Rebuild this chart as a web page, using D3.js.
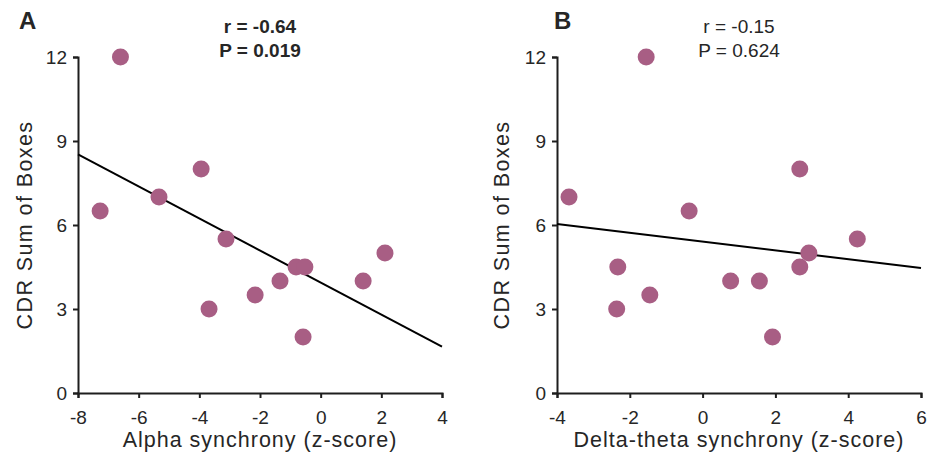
<!DOCTYPE html>
<html>
<head>
<meta charset="utf-8">
<script src="https://cdn.jsdelivr.net/npm/d3@7"></script>
<style>
  body { margin: 0; background: #fff; }
  text { font-family: "Liberation Sans", Arial, sans-serif; fill: #262626; }
</style>
</head>
<body>
<svg id="chart" width="930" height="455"></svg>
<script>
// --------------------------------------------------
// data

const cdrScores = [12, 6.5, 7, 8, 5.5, 3, 3.5, 4, 4.5, 4.5, 2, 4, 5];
const alphaSync = [-6.6, -7.27, -5.33, -3.94, -3.12, -3.68, -2.16, -1.34, -0.81, -0.52, -0.58, 1.40, 2.12];

const cdrScoresB = [7, 12, 6.5, 8, 4.5, 3, 3.5, 4, 4, 2, 4.5, 5, 5.5];
const deltaThetaSync = [-3.67, -1.55, -0.37, 2.67, -2.33, -2.36, -1.45, 0.77, 1.56, 1.92, 2.67, 2.92, 4.25];

const yTicks = [0, 3, 6, 9, 12];
const xTicksA = [-8, -6, -4, -2, 0, 2, 4];
const xTicksB = [-4, -2, 0, 2, 4, 6];

const statsA = ['r = -0.64', 'P = 0.019'];
const statsB = ['r = -0.15', 'P = 0.624'];

// --------------------------------------------------

const svg = d3.select('#chart');
const dotColour = '#a85e84';
const axisColour = '#1e1e1e';

// least squares line through the points
function fit(xs, ys)
{
  let mx = d3.mean(xs), my = d3.mean(ys);
  let sxy = d3.sum(xs, (x, i) => (x - mx) * (ys[i] - my));
  let sxx = d3.sum(xs, x => (x - mx) * (x - mx));
  let slope = sxy / sxx;
  return x => my + slope * (x - mx);
}

function panel(opts)
{
  let x = d3.scaleLinear().domain(opts.xDomain).range(opts.xRange);
  let y = d3.scaleLinear().domain([0, 12]).range([393, 57]);
  let g = svg.append('g');

  // axes
  let xAxis = g.append('g')
    .attr('transform', 'translate(0,393)')
    .call(d3.axisBottom(x).tickValues(opts.xTicks).tickSize(5).tickPadding(13));
  let yAxis = g.append('g')
    .attr('transform', `translate(${opts.xRange[0]},0)`)
    .call(d3.axisLeft(y).tickValues(yTicks).tickSize(5).tickPadding(6));

  [xAxis, yAxis].forEach(a =>
  {
    a.select('.domain').attr('stroke', axisColour).attr('stroke-width', 2);
    a.selectAll('.tick line').attr('stroke', axisColour).attr('stroke-width', 2);
    a.selectAll('.tick text')
      .style('font-family', '"Liberation Sans", Arial, sans-serif')
      .style('font-size', '19px')
      .attr('fill', '#262626');
  });
  // plain hyphen for negatives, as in the original
  xAxis.selectAll('.tick text').text(d => String(d));

  // regression line
  let line = fit(opts.xs, opts.ys);
  g.append('line')
    .attr('x1', x(opts.xDomain[0])).attr('y1', y(line(opts.xDomain[0])))
    .attr('x2', x(opts.xDomain[1])).attr('y2', y(line(opts.xDomain[1])))
    .attr('stroke', '#000')
    .attr('stroke-width', 2);

  // points
  g.selectAll('circle')
    .data(opts.xs.map((d, i) => [d, opts.ys[i]]))
    .enter()
    .append('circle')
    .attr('cx', d => x(d[0]))
    .attr('cy', d => y(d[1]))
    .attr('r', 8.5)
    .attr('fill', dotColour);

  // titles
  let mid = (opts.xRange[0] + opts.xRange[1]) / 2;
  g.append('text')
    .attr('x', mid)
    .attr('y', 447)
    .attr('text-anchor', 'middle')
    .style('font-size', '21.5px')
    .style('letter-spacing', '1px')
    .text(opts.xTitle);

  g.append('text')
    .attr('transform', `translate(${opts.yTitleX},225) rotate(-90)`)
    .attr('text-anchor', 'middle')
    .style('font-size', '21.5px')
    .style('letter-spacing', '1.4px')
    .text('CDR Sum of Boxes');

  g.append('text')
    .attr('x', opts.labelX)
    .attr('y', 29)
    .style('font-size', '24px')
    .style('font-weight', 'bold')
    .attr('fill', '#000')
    .text(opts.label);

  g.selectAll('.stat')
    .data(opts.stats)
    .enter()
    .append('text')
    .attr('class', 'stat')
    .attr('x', opts.statX)
    .attr('y', (d, i) => 33 + i * 24)
    .attr('text-anchor', 'middle')
    .style('font-size', '19px')
    .style('font-weight', opts.bold ? 'bold' : 'normal')
    .attr('fill', '#000')
    .text(d => d);
}

panel({
  xs: alphaSync, ys: cdrScores,
  xDomain: [-8, 4], xRange: [78, 442], xTicks: xTicksA,
  xTitle: 'Alpha synchrony (z-score)',
  yTitleX: 32, label: 'A', labelX: 19,
  stats: statsA, statX: 260, bold: true
});

panel({
  xs: deltaThetaSync, ys: cdrScoresB,
  xDomain: [-4, 6], xRange: [557, 921], xTicks: xTicksB,
  xTitle: 'Delta-theta synchrony (z-score)',
  yTitleX: 509, label: 'B', labelX: 554,
  stats: statsB, statX: 739, bold: false
});
</script>
</body>
</html>
